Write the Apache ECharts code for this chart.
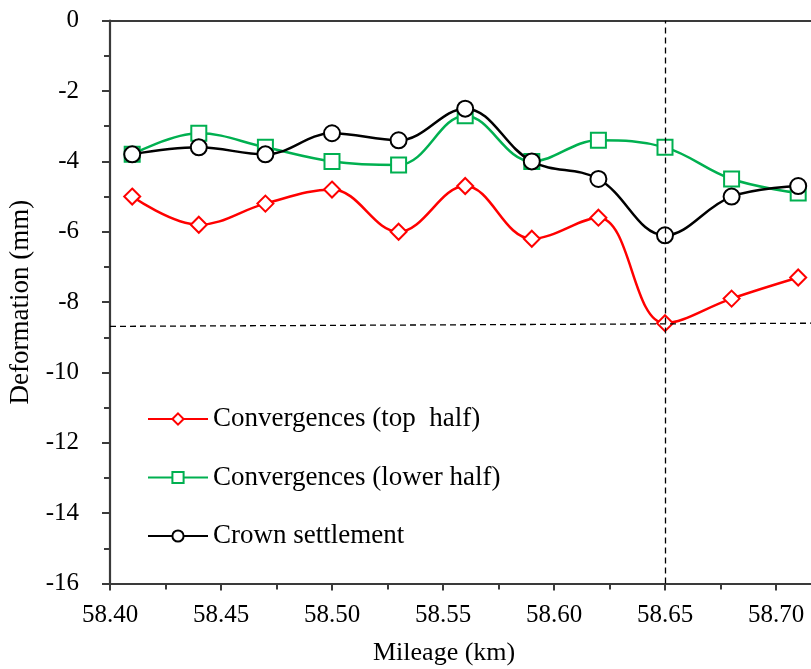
<!DOCTYPE html>
<html>
<head>
<meta charset="utf-8">
<script src="https://cdn.jsdelivr.net/npm/echarts@6/dist/echarts.min.js"></script>
<style>
html,body{margin:0;padding:0;background:#fff;overflow:hidden;}
#chart{position:absolute;left:0;top:0;width:887px;height:669px;}
</style>
</head>
<body>
<div id="chart"></div>
<script>
const mileage = [58.41, 58.44, 58.47, 58.50, 58.53, 58.56, 58.59, 58.62, 58.65, 58.68, 58.71];
const topHalf = [-5.0, -5.8, -5.2, -4.8, -6.0, -4.7, -6.2, -5.6, -8.6, -7.9, -7.3];
const lowerHalf = [-3.8, -3.2, -3.6, -4.0, -4.1, -2.7, -4.0, -3.4, -3.6, -4.5, -4.9];
const crown = [-3.8, -3.6, -3.8, -3.2, -3.4, -2.5, -4.0, -4.5, -6.1, -5.0, -4.7];
const seriesNames = ['Convergences (top  half)', 'Convergences (lower half)', 'Crown settlement'];
const refLineX = 58.65;
const refLineH = [[58.40, -8.69], [58.716, -8.6]];

const FONT = 'Liberation Serif';
const axisColor = '#3a3a3a';

function pairs(ys) { return mileage.map((x, i) => [x, ys[i]]); }

const chart = echarts.init(document.getElementById('chart'), null, {renderer: 'canvas', width: 887, height: 669});
const dashStyle = {color: '#000', width: 1.3, type: [6, 4]};

chart.setOption({
  animation: false,
  backgroundColor: '#fff',
  textStyle: {fontFamily: FONT, color: '#000'},
  grid: {left: 110, top: 20.7, right: 0, bottom: 85.5, containLabel: false, outerBoundsMode: 'none'},
  legend: {
    orient: 'vertical',
    left: 147, top: 405.5, padding: 0,
    itemWidth: 60, itemHeight: 14, itemGap: 31.5,
    data: seriesNames,
    textStyle: {fontFamily: FONT, fontSize: 27, lineHeight: 27, color: '#000'}
  },
  graphic: [{
    type: 'text', left: 373, top: 640,
    style: {text: 'Mileage (km)', font: '26px "Liberation Serif"', fill: '#000'}
  }],
  xAxis: [{
    type: 'value', position: 'bottom',
    min: 58.40, max: 58.75, interval: 0.05,
    axisLine: {show: true, onZero: false, lineStyle: {color: axisColor, width: 2.2}},
    axisTick: {show: true, inside: false, length: 7, lineStyle: {color: axisColor, width: 2}},
    minorTick: {show: true, splitNumber: 2, length: 6, lineStyle: {color: axisColor, width: 2}},
    axisLabel: {margin: 19, fontSize: 25, fontFamily: FONT, color: '#000',
      formatter: v => v.toFixed(2)},
    splitLine: {show: false}
  }, {
    type: 'value', position: 'top',
    min: 58.40, max: 58.75,
    axisLine: {show: true, onZero: false, lineStyle: {color: axisColor, width: 2.2}},
    axisTick: {show: false}, axisLabel: {show: false}, splitLine: {show: false}
  }],
  yAxis: {
    type: 'value', min: -16, max: 0, interval: 2,
    name: 'Deformation (mm)', nameLocation: 'middle', nameGap: 76, nameRotate: 90,
    nameTextStyle: {fontFamily: FONT, fontSize: 27, color: '#000'},
    axisLine: {show: true, onZero: false, lineStyle: {color: axisColor, width: 2.2}},
    axisTick: {show: true, inside: false, length: 8, lineStyle: {color: axisColor, width: 2}},
    minorTick: {show: true, splitNumber: 2, length: 6, lineStyle: {color: axisColor, width: 2}},
    axisLabel: {margin: 31, fontSize: 25, fontFamily: FONT, color: '#000'},
    splitLine: {show: false}
  },
  series: [{
    name: seriesNames[0], type: 'line', data: pairs(topHalf), smooth: 0.38,
    symbol: 'emptyDiamond', symbolSize: 16,
    lineStyle: {color: '#ff0000', width: 2.5},
    itemStyle: {color: '#ff0000', borderWidth: 2.5},
    z: 3,
    markLine: {
      silent: true, symbol: ['none', 'none'], label: {show: false},
      lineStyle: dashStyle,
      data: [
        [{coord: refLineH[0]}, {coord: refLineH[1]}],
        {xAxis: refLineX}
      ]
    }
  }, {
    name: seriesNames[1], type: 'line', data: pairs(lowerHalf), smooth: 0.38,
    symbol: 'emptyRect', symbolSize: 15,
    lineStyle: {color: '#00b050', width: 2.5},
    itemStyle: {color: '#00b050', borderWidth: 2.5},
    z: 2
  }, {
    name: seriesNames[2], type: 'line', data: pairs(crown), smooth: 0.38,
    symbol: 'emptyCircle', symbolSize: 16,
    lineStyle: {color: '#000000', width: 2.5},
    itemStyle: {color: '#000000', borderWidth: 2.5},
    z: 4
  }]
});
</script>
</body>
</html>
